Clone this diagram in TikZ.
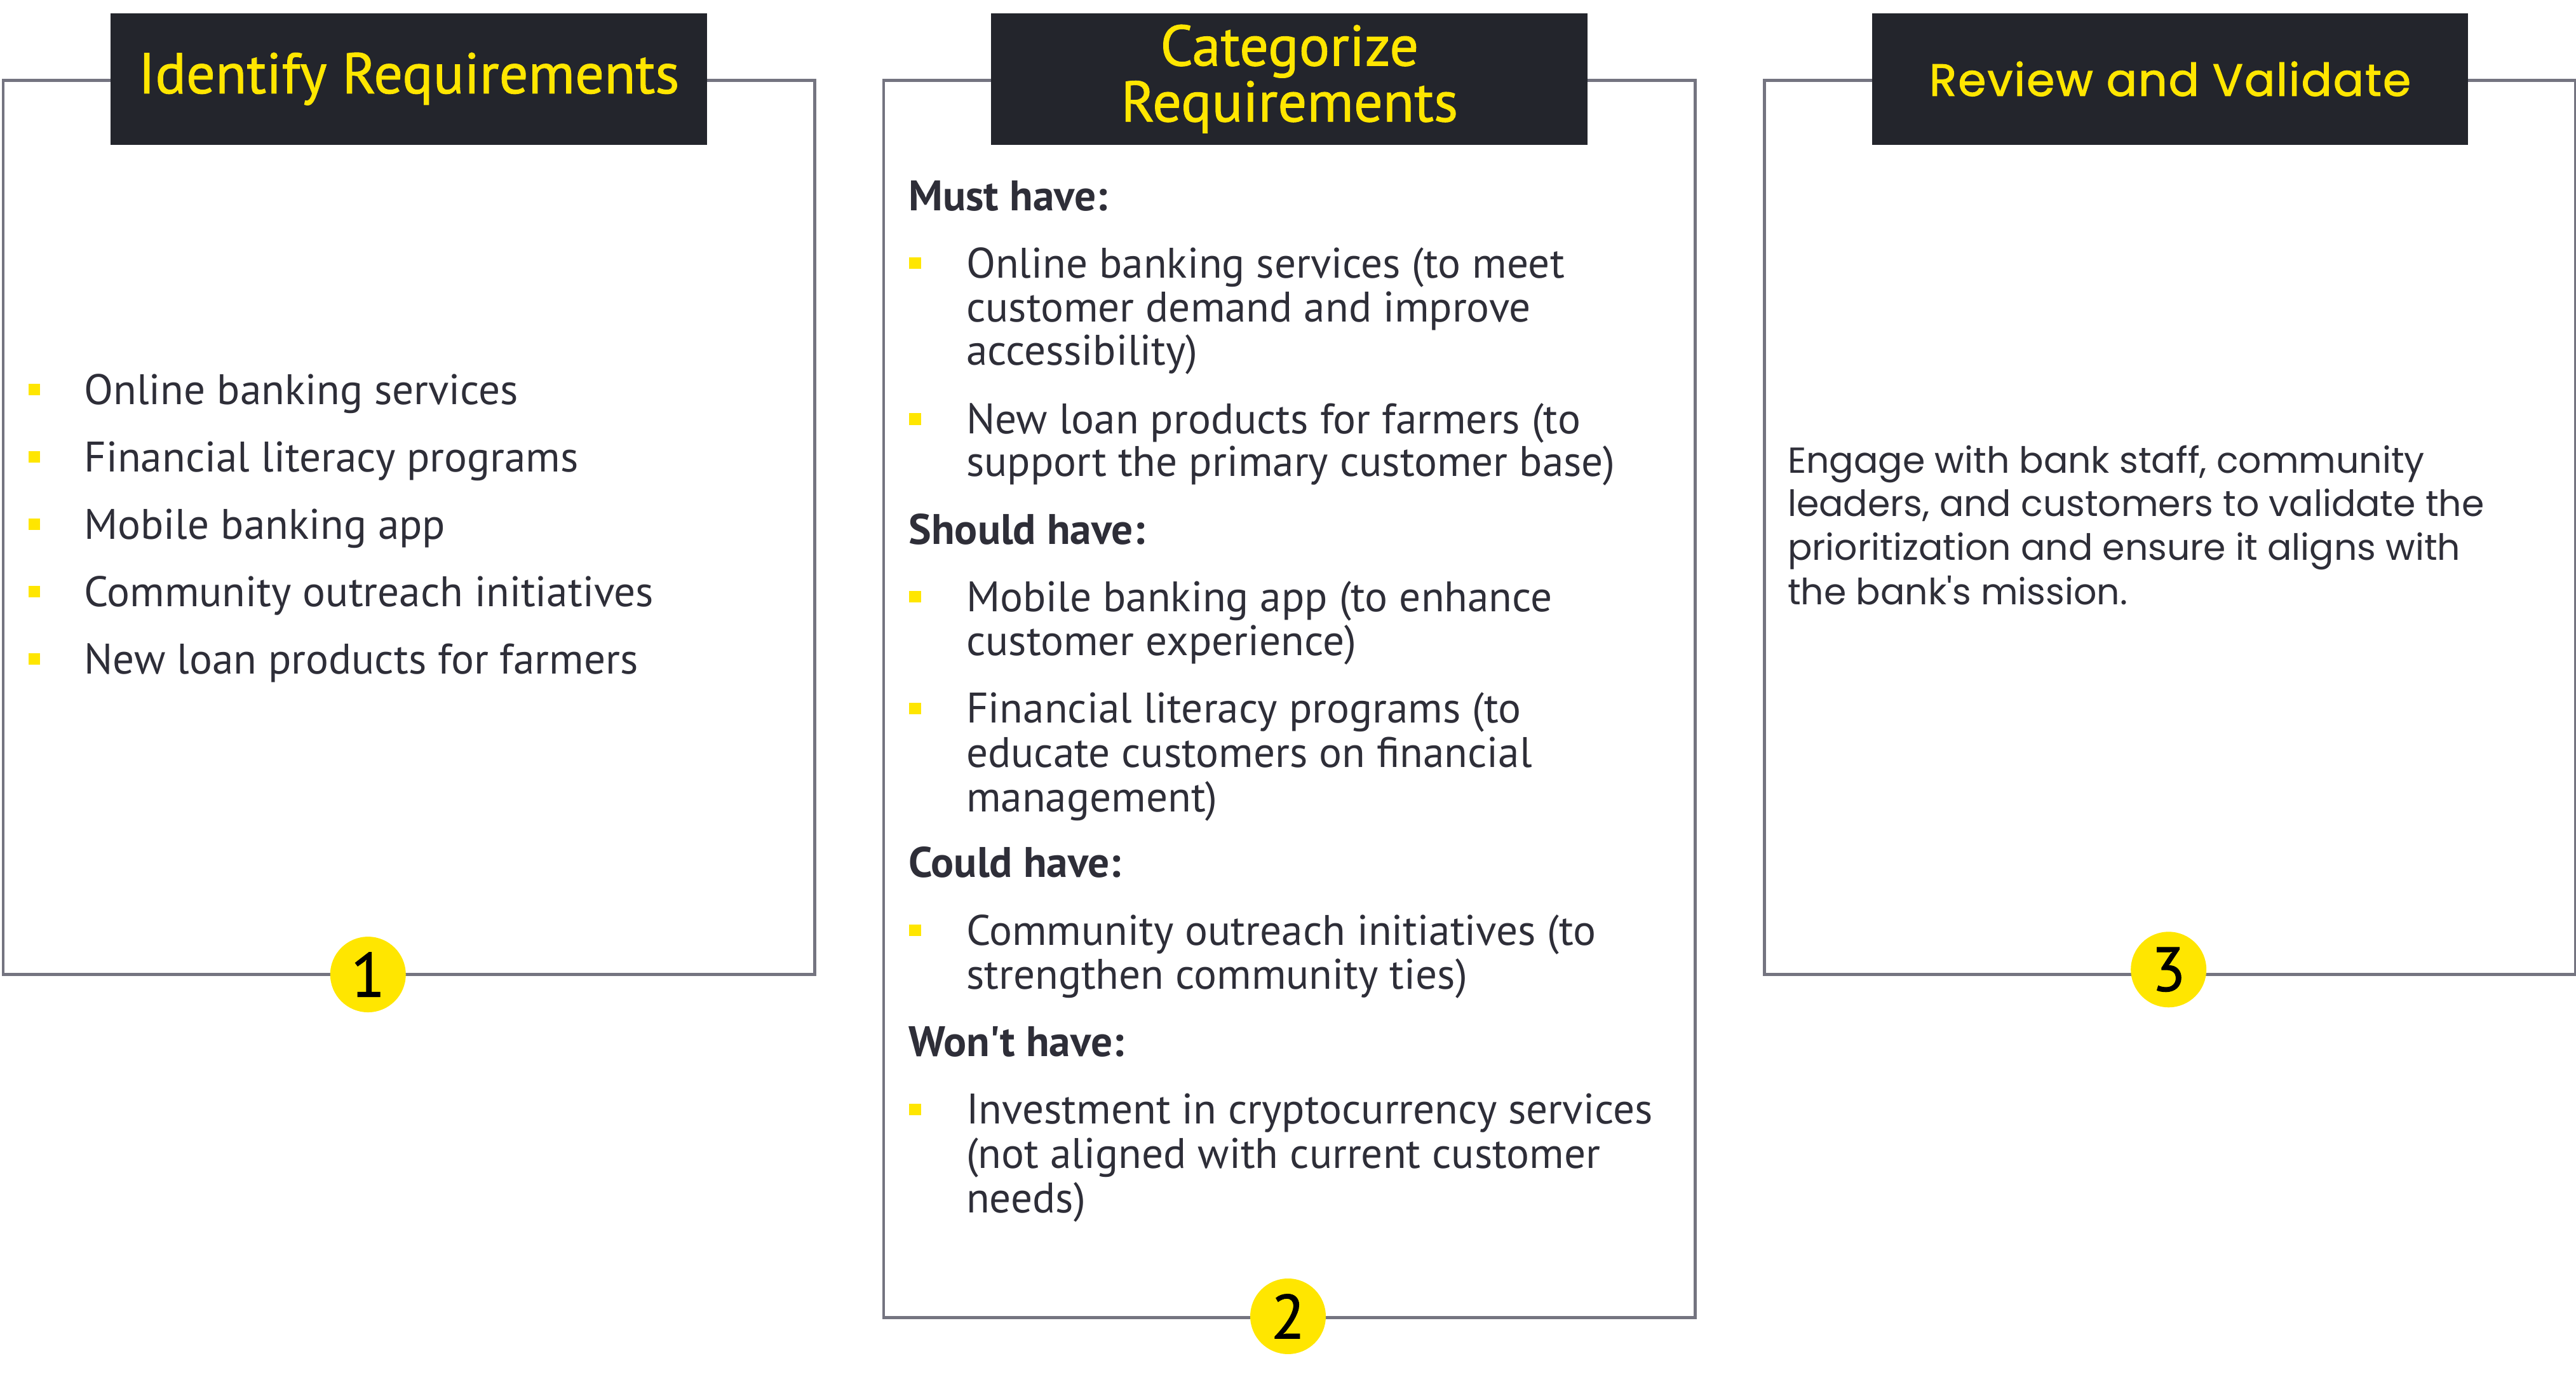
\documentclass[tikz,border=0pt]{standalone}
\usepackage{fontspec}
\setmainfont{PT Sans}
\newfontfamily\titlefont[FakeBold=1.0]{PT Sans}
\newfontfamily\widefont{Poppins}
\newfontfamily\widetitlefont[FakeBold=1.6,LetterSpace=3]{Poppins}
\definecolor{eyyellow}{HTML}{FFE600}
\definecolor{eydark}{HTML}{23252C}
\definecolor{eygray}{HTML}{747480}
\definecolor{eytext}{HTML}{2E2E38}
\tikzset{
  frame/.style={draw=eygray, line width=1.8pt, anchor=north west, inner sep=0, minimum width=494pt},
  titlebox/.style={fill=eydark, inner sep=0, minimum width=363pt, minimum height=80pt,
    text=eyyellow, align=center, font=\titlefont\fontsize{35}{34}\selectfont},
  item/.style={anchor=base west, inner sep=0, text=eytext, font=\fontsize{26}{27}\selectfont},
  head/.style={item, font=\fontsize{26}{27}\selectfont\bfseries},
  wideitem/.style={item, font=\widefont\fontsize{22}{27}\selectfont},
  bulletsq/.style={fill=eyyellow, minimum size=7pt, inner sep=0},
  badge/.style={circle, fill=eyyellow, minimum size=46pt, inner sep=0, text=black,
    font=\titlefont\fontsize{38}{38}\selectfont}
}
\begin{document}
\begin{tikzpicture}[x=1pt,y=-1pt]
\useasboundingbox (0,0) rectangle (1568,842);

% frames
\node[frame, minimum height=544pt] (f1) at (1,48) {};
\node[frame, minimum height=753pt] (f2) at (537,48) {};
\node[frame, minimum height=544pt] (f3) at (1073,48) {};

% title bars
\node[titlebox] (t1) at (f1.north) {Identify Requirements};
\node[titlebox] (t2) at (f2.north) {Categorize\\Requirements};
\node[titlebox, font=\widetitlefont\fontsize{27.5}{30}\selectfont] (t3) at (f3.north) {Review and Validate};

% step 1 list
\foreach \y/\txt [count=\i] in {237/Online banking services,
    278/Financial literacy programs,
    319/Mobile banking app,
    360/Community outreach initiatives,
    401/New loan products for farmers}{
  \node[bulletsq] (b1\i) at (21,\y) {};
  \node[item] (a1\i) at (51,\y+9) {\txt};
}

% step 2 categories
\node[head] (h1) at (553,128) {Must have:};
\node[bulletsq] (c1) at (557,160) {};
\node[item] (m1a) at (588,169) {Online banking services (to meet};
\node[item] (m1b) at (588,196) {customer demand and improve};
\node[item] (m1c) at (588,222) {accessibility)};
\node[bulletsq] (c2) at (557,255) {};
\node[item] (m2a) at (588,264) {New loan products for farmers (to};
\node[item] (m2b) at (588,290) {support the primary customer base)};

\node[head] (h2) at (553,331) {Should have:};
\node[bulletsq] (c3) at (557,363) {};
\node[item] (s1a) at (588,372) {Mobile banking app (to enhance};
\node[item] (s1b) at (588,399) {customer experience)};
\node[bulletsq] (c4) at (557,431) {};
\node[item] (s2a) at (588,440) {Financial literacy programs (to};
\node[item] (s2b) at (588,467) {educate customers on financial};
\node[item] (s2c) at (588,494) {management)};

\node[head] (h3) at (553,534) {Could have:};
\node[bulletsq] (c5) at (557,566) {};
\node[item] (k1a) at (588,575) {Community outreach initiatives (to};
\node[item] (k1b) at (588,602) {strengthen community ties)};

\node[head] (h4) at (553,643) {Won\textquotesingle t have:};
\node[bulletsq] (c6) at (557,675) {};
\node[item] (w1a) at (588,684) {Investment in cryptocurrency services};
\node[item] (w1b) at (588,711) {(not aligned with current customer};
\node[item] (w1c) at (588,738) {needs)};

% step 3 text
\node[wideitem] (r1) at (1088,288) {Engage with bank staff, community};
\node[wideitem] (r2) at (1088,314) {leaders, and customers to validate the};
\node[wideitem] (r3) at (1088,341) {prioritization and ensure it aligns with};
\node[wideitem] (r4) at (1088,368) {the bank\textquotesingle s mission.};

% step badges
\node[badge] (n1) at (224,593) {1};
\node[badge] (n2) at (784,801) {2};
\node[badge] (n3) at (1320,590) {3};
\end{tikzpicture}
\end{document}
